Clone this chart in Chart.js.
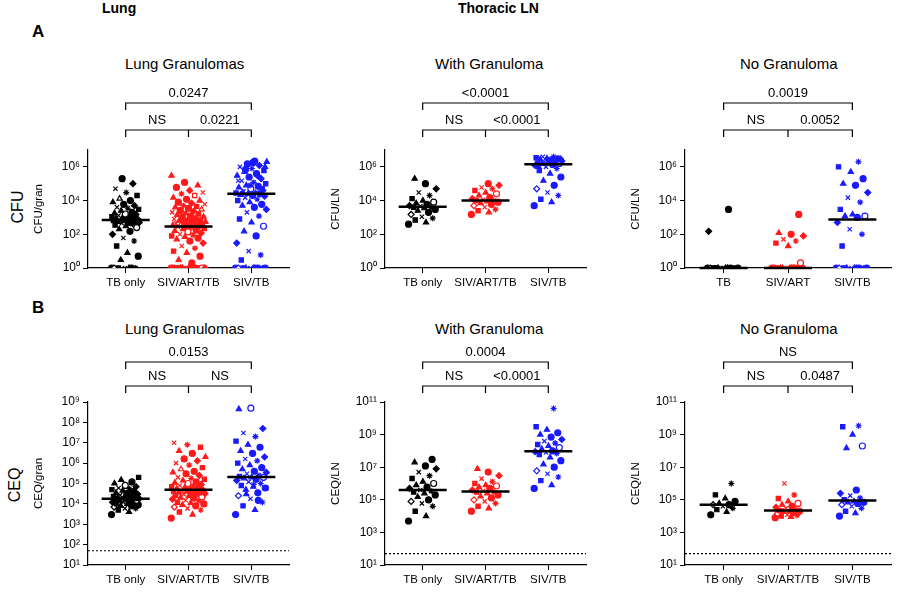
<!DOCTYPE html>
<html><head><meta charset="utf-8">
<script src="https://cdn.jsdelivr.net/npm/chart.js@4/dist/chart.umd.min.js"></script>
<style>
body{margin:0;width:900px;height:606px;background:#fff;font-family:"Liberation Sans",Arial,sans-serif;position:relative;overflow:hidden}
canvas{position:absolute}
.t{position:absolute;white-space:nowrap;color:#000}
</style></head><body>
<div class="t" style="left:102px;top:0px;font-weight:bold;font-size:14px">Lung</div>
<div class="t" style="left:458px;top:0px;font-weight:bold;font-size:14px">Thoracic LN</div>
<div class="t" style="left:32px;top:22px;font-weight:bold;font-size:17px">A</div>
<div class="t" style="left:32px;top:298px;font-weight:bold;font-size:17px">B</div>
<div class="t" style="left:125px;top:55px;font-size:15px">Lung Granulomas</div>
<div class="t" style="left:435px;top:55px;font-size:15px">With Granuloma</div>
<div class="t" style="left:740px;top:55px;font-size:15px">No Granuloma</div>
<div class="t" style="left:125px;top:320px;font-size:15px">Lung Granulomas</div>
<div class="t" style="left:435px;top:320px;font-size:15px">With Granuloma</div>
<div class="t" style="left:740px;top:320px;font-size:15px">No Granuloma</div>
<div class="t" style="left:2px;top:198px;font-size:16px;transform:rotate(-90deg)">CFU</div>
<div class="t" style="left:-2px;top:476px;font-size:16px;transform:rotate(-90deg)">CEQ</div>
<canvas id="c1" width="265" height="220" style="left:30px;top:80px;width:265px;height:220px"></canvas>
<canvas id="c2" width="265" height="220" style="left:327px;top:80px;width:265px;height:220px"></canvas>
<canvas id="c3" width="270" height="220" style="left:627px;top:80px;width:270px;height:220px"></canvas>
<canvas id="c4" width="265" height="257" style="left:30px;top:340px;width:265px;height:257px"></canvas>
<canvas id="c5" width="265" height="257" style="left:327px;top:340px;width:265px;height:257px"></canvas>
<canvas id="c6" width="270" height="257" style="left:627px;top:340px;width:270px;height:257px"></canvas>
<script>
// ---- data ----
const catsLung = ["TB only","SIV/ART/TB","SIV/TB"];
const catsNoGranA = ["TB","SIV/ART","SIV/TB"];
const yTicksA = [1,1e1,1e2,1e3,1e4,1e5,1e6,1e7];
const yTicksB1 = [1e1,1e2,1e3,1e4,1e5,1e6,1e7,1e8,1e9];
const yTicksB2 = [1e1,1e2,1e3,1e4,1e5,1e6,1e7,1e8,1e9,1e10,1e11];

const cfuLungTB = [1,1,1,1,1,1,1,3,5,8,2e1,4e1,6e1,1e2,1.5e2,2e2,2.5e2,3e2,3.5e2,4e2,4.5e2,5e2,5e2,5.5e2,6e2,6e2,6.5e2,7e2,7e2,8e2,8e2,9e2,1e3,1e3,1.1e3,1.2e3,1.3e3,1.5e3,1.6e3,1.8e3,2e3,2.5e3,3e3,3.5e3,4e3,5e3,6e3,8e3,1e4,1.3e4,2e4,3e4,5e4,1e5,2e5];
const cfuLungART = [1,1,1,1,1,1,1,1,1,1,1,1,1,1,1,1,1,1,1,1,1,1,2,3,5,8,1e1,1.5e1,2e1,3e1,4e1,5e1,6e1,7e1,8e1,9e1,1e2,1.2e2,1.4e2,1.6e2,1.8e2,2e2,2.2e2,2.5e2,2.8e2,3e2,3.2e2,3.5e2,3.8e2,4e2,4e2,4.2e2,4.5e2,4.8e2,5e2,5.5e2,6e2,6.5e2,7e2,7.5e2,8e2,9e2,1e3,1.1e3,1.2e3,1.4e3,1.6e3,1.8e3,2e3,2.3e3,2.6e3,3e3,3.5e3,4e3,4.5e3,5e3,6e3,7e3,8e3,1e4,1.2e4,1.5e4,2e4,2.5e4,3e4,4e4,6e4,8e4,1.2e5,3e5];
const cfuLungSIV = [1,1,1,1,1,1,1,1,1,1,3,6,1e1,3e1,8e1,1.5e2,3e2,5e2,8e2,1.2e3,2e3,3e3,4e3,5e3,6e3,8e3,1e4,1.2e4,1.5e4,1.8e4,2e4,2.2e4,2.5e4,2.5e4,2.8e4,3e4,3.5e4,4e4,5e4,6e4,7e4,8e4,1e5,1.2e5,1.5e5,2e5,2.5e5,3e5,4e5,5e5,6e5,8e5,1e6,1.2e6,1.5e6,2e6,2.2e6,3e4,5e4,8e4,1.5e5,3e5,7e5,1e6,1.8e6];
const cfuWgTB = [4e2,5e2,7e2,9e2,1.1e3,1.5e3,2e3,2.5e3,3e3,3.5e3,4e3,4e3,4.5e3,5e3,6e3,7e3,8e3,1e4,1.3e4,2e4,3e4,5e4,1e5,2e5];
const cfuWgART = [1.5e3,2e3,2.5e3,3e3,4e3,5e3,6e3,7e3,8e3,9e3,1e4,1e4,1.1e4,1.3e4,1.5e4,2e4,2.5e4,3e4,4e4,5e4,6e4,8e4,1e5];
const cfuWgSIV = [5e3,8e3,1.2e4,2e4,3e4,5e4,8e4,1.5e5,2.5e5,4e5,6e5,8e5,1e6,1.2e6,1.4e6,1.5e6,1.6e6,1.6e6,1.7e6,1.8e6,2e6,2.2e6,2.5e6,2.8e6,3e6,3.2e6,3.5e6,4e6,4e6,3e6,2e6,1e6];
const cfuNgTB = [1,1,1,1,1,1,1,1,1,1,1,1,1,1.5e2,3e3];
const cfuNgART = [1,1,1,1,1,1,1,1,1,1,1,1,1,1,1,1,2,2e1,3e1,4e1,5e1,8e1,1e2,1.2e2,1.5e3];
const cfuNgSIV = [1,1,1,1,1,1,1,1,1,1,2e1,1e2,2e2,5e2,1e3,1.2e3,1.2e3,1.5e3,3e3,8e3,1.5e4,3e4,8e4,1e5,2e5,5e5,1e6,2e6];
const ceqLungTB = [3e3,4e3,5e3,6e3,6e3,7e3,8e3,8e3,9e3,1e4,1e4,1.1e4,1.2e4,1.2e4,1.3e4,1.4e4,1.5e4,1.5e4,1.6e4,1.7e4,1.8e4,1.8e4,1.9e4,2e4,2e4,2.2e4,2.3e4,2.5e4,2.7e4,3e4,3.2e4,3.5e4,4e4,4.5e4,5e4,5.5e4,6e4,7e4,8e4,1e5,1.2e5,1.5e5,2e5];
const ceqLungART = [2e3,3e3,4e3,5e3,6e3,7e3,8e3,9e3,1e4,1.1e4,1.2e4,1.4e4,1.5e4,1.7e4,1.9e4,2e4,2.2e4,2.4e4,2.6e4,2.8e4,3e4,3.2e4,3.4e4,3.6e4,3.8e4,4e4,4e4,4.2e4,4.5e4,4.8e4,5e4,5.5e4,6e4,6.5e4,7e4,7.5e4,8e4,9e4,1e5,1.1e5,1.2e5,1.4e5,1.6e5,1.8e5,2e5,2.5e5,3e5,3.5e5,4e5,5e5,6e5,8e5,1e6,1.3e6,1.6e6,2e6,3e6,4e6,6e6,8e6,1e7];
const ceqLungSIV = [3e3,5e3,8e3,1.2e4,1.8e4,2.5e4,3.5e4,5e4,6e4,7e4,8e4,1e5,1.2e5,1.4e5,1.6e5,1.8e5,2e5,2e5,2.2e5,2.5e5,3e5,3.5e5,4e5,5e5,6e5,8e5,1e6,1.3e6,1.6e6,2e6,3e6,4e6,6e6,8e6,1.2e7,2e7,3e7,5e7,5e8,4.5e8,1.5e4,3e4,6e4,9e4];
const ceqWgTB = [5e3,1e4,2e4,4e4,6e4,8e4,1e5,1.5e5,2e5,2.5e5,3e5,3.5e5,4e5,5e5,6e5,8e5,1e6,1.3e6,2e6,3e6,5e6,8e6,1.2e7,2e7,3e7];
const ceqWgART = [2e4,3e4,4e4,6e4,8e4,1e5,1.3e5,1.6e5,2e5,2.5e5,3e5,3e5,3.5e5,4e5,5e5,6e5,7e5,8e5,1e6,1.3e6,2e6,3e6,5e6,8e6];
const ceqWgSIV = [5e5,8e5,1.5e6,2.5e6,4e6,6e6,1e7,1.5e7,2.5e7,4e7,6e7,7e7,8e7,9e7,1e8,1.3e8,1.6e8,2e8,2.5e8,3e8,4e8,5e8,7e8,1e9,1.3e9,2e9,3e9,4e10];
const ceqNgTB = [1.2e4,1.8e4,2.5e4,3e4,4e4,5e4,5e4,6e4,8e4,1.2e5,2e5,1e6];
const ceqNgART = [8e3,9e3,1e4,1.1e4,1.2e4,1.4e4,1.6e4,1.8e4,2e4,2e4,2.2e4,2.5e4,3e4,3.5e4,4e4,5e4,6e4,8e4,1.2e5,2e5,1e6];
const ceqNgSIV = [1e4,1.5e4,2e4,3e4,4e4,5e4,6e4,7e4,7e4,8e4,1e5,1.3e5,1.8e5,2.5e5,4e5,1.5e8,2e8,1e9,3e9,3.5e9];

const COLORS = ["#000000","#ff1a1a","#1a1aff"];
const SHAPES = ["circle","triangle","rect","star","crossRot","rectRot","circle","triangle"];

function jitterData(vals, cat, width){
  return vals.map((v,i)=>({x: cat + (((i*0.6180339)%1)-0.5)*width, y: v}));
}
function median(a){const s=[...a].sort((p,q)=>p-q);const m=s.length>>1;return s.length%2?s[m]:(s[m-1]+s[m])/2;}

const bracketPlugin = {
  id:'brk',
  afterDraw(ch, args, o){
    const c=ch.ctx, xs=ch.scales.x, ys=ch.scales.y, a=ch.chartArea;
    c.save();
    c.strokeStyle='#000'; c.lineWidth=2.5;
    o.groups.forEach((g,i)=>{const y=ys.getPixelForValue(median(g));const x=xs.getPixelForValue(i);c.beginPath();c.moveTo(x-24,y);c.lineTo(x+24,y);c.stroke();});
    if(o.lod){const y=ys.getPixelForValue(o.lod);c.lineWidth=1.2;c.setLineDash([2,2]);c.beginPath();c.moveTo(a.left,y);c.lineTo(a.right,y);c.stroke();c.setLineDash([]);}
    c.lineWidth=1.2; c.font='13px "Liberation Sans", Arial'; c.fillStyle='#000'; c.textAlign='center'; c.textBaseline='bottom';
    const x0=xs.getPixelForValue(0),x1=xs.getPixelForValue(1),x2=xs.getPixelForValue(2);
    const yT=a.top-o.top, yL=a.top-o.low, leg=7;
    c.beginPath();c.moveTo(x0,yT+leg);c.lineTo(x0,yT);c.lineTo(x2,yT);c.lineTo(x2,yT+leg);c.stroke();
    c.beginPath();c.moveTo(x0,yL+leg);c.lineTo(x0,yL);c.lineTo(x2,yL);c.lineTo(x2,yL+leg);c.moveTo(x1,yL);c.lineTo(x1,yL+leg);c.stroke();
    c.fillText(o.labels[0],(x0+x2)/2,yT-3);
    c.fillText(o.labels[1],(x0+x1)/2,yL-3);
    c.fillText(o.labels[2],(x1+x2)/2,yL-3);
    c.restore();
  }
};
const sup={"0":"⁰","1":"¹","2":"²","3":"³","4":"⁴","5":"⁵","6":"⁶","7":"⁷","8":"⁸","9":"⁹","-":"⁻"};
function pow(v){const e=Math.round(Math.log10(v));return "10"+String(e).split("").map(d=>sup[d]).join("");}

function make(id, groups, cats, ticks, ytitle, padTop, brk, lod, widths){
  const datasets = groups.map((g,i)=>({
    data: jitterData(g,i,widths[i]),
    pointStyle: g.map((_,j)=>SHAPES[j%SHAPES.length]),
    backgroundColor: g.map((_,j)=> j%11===5 ? '#fff' : COLORS[i]),
    borderColor: COLORS[i], borderWidth:1.2, pointRadius:3
  }));
  new Chart(document.getElementById(id),{
    type:'scatter', data:{datasets},
    plugins:[bracketPlugin],
    options:{
      responsive:false, animation:false,
      layout:{padding:{top:padTop,right:6,left:0,bottom:0}},
      plugins:{legend:{display:false},tooltip:{enabled:false},brk:{groups,labels:brk,top:brk.top,low:brk.low,lod}},
      scales:{
        x:{type:'linear',min:-0.6,max:2.6,
          afterBuildTicks:s=>{s.ticks=[0,1,2].map(v=>({value:v}));},
          afterFit:s=>{s.height=32;},
          ticks:{callback:v=>cats[v],color:'#000',font:{size:11.5,family:'"Liberation Sans", Arial'},maxRotation:0},
          grid:{display:true,drawOnChartArea:false,tickLength:5,color:'#000'},
          border:{color:'#000',width:1.2}},
        y:{type:'logarithmic',min:ticks[0],max:ticks[ticks.length-1],
          afterBuildTicks:s=>{s.ticks=ticks.map(v=>({value:v}));},
          afterFit:s=>{s.width=58;},
          ticks:{callback:v=>pow(v),color:'#000',font:{size:12,family:'"Liberation Sans", Arial'}},
          title:{display:true,text:ytitle,color:'#000',font:{size:11.5,family:'"Liberation Sans", Arial'},padding:2},
          grid:{display:true,drawOnChartArea:false,tickLength:5,color:'#000'},
          border:{color:'#000',width:1.2}}
      }
    }
  });
}
function B(a,b,c,top,low){const r=[a,b,c];r.top=top;r.low=low;return r;}
make('c1',[cfuLungTB,cfuLungART,cfuLungSIV],catsLung,yTicksA,'CFU/gran',70,B('0.0247','NS','0.0221',47,20),null,[0.45,0.55,0.5]);
make('c2',[cfuWgTB,cfuWgART,cfuWgSIV],catsLung,yTicksA,'CFU/LN',70,B('<0.0001','NS','<0.0001',47,20),null,[0.45,0.45,0.45]);
make('c3',[cfuNgTB,cfuNgART,cfuNgSIV],catsNoGranA,yTicksA,'CFU/LN',70,B('0.0019','NS','0.0052',47,20),null,[0.5,0.5,0.5]);
make('c4',[ceqLungTB,ceqLungART,ceqLungSIV],catsLung,yTicksB1,'CEQ/gran',62,B('0.0153','NS','NS',40,16),50,[0.45,0.55,0.5]);
make('c5',[ceqWgTB,ceqWgART,ceqWgSIV],catsLung,yTicksB2,'CEQ/LN',62,B('0.0004','NS','<0.0001',40,16),50,[0.45,0.45,0.45]);
make('c6',[ceqNgTB,ceqNgART,ceqNgSIV],catsLung,yTicksB2,'CEQ/LN',62,B('NS','NS','0.0487',40,16),50,[0.4,0.4,0.4]);
</script>
</body></html>
